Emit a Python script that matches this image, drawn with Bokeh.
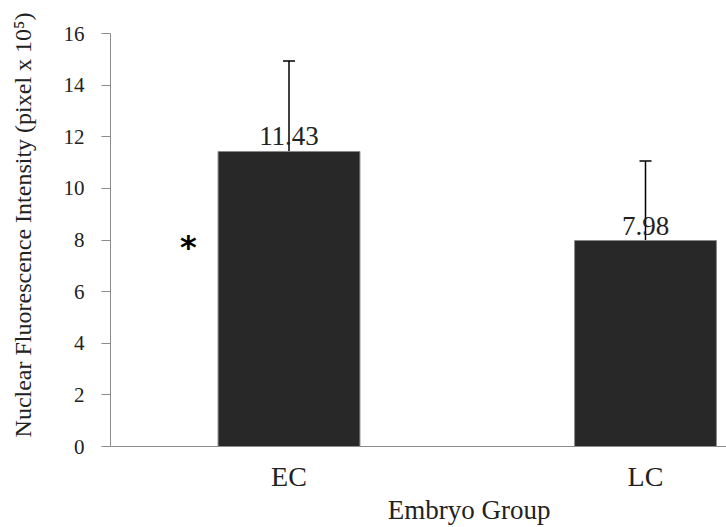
from bokeh.plotting import figure
from bokeh.models import ColumnDataSource, Whisker, TeeHead, FixedTicker, Range1d
from bokeh.core.properties import value
from bokeh.embed import file_html
from bokeh.resources import INLINE

groups = ["EC", "LC"]
group_pos = [0, 1]
means = [11.43, 7.98]
errors = [3.50, 3.08]
mean_labels = ["11.43", "7.98"]
y_ticks = [0, 2, 4, 6, 8, 10, 12, 14, 16]
star_x = [-0.282]
star_y = [7.87]

SERIF = "'Liberation Serif', 'Times New Roman', serif"
LABEL_FONT = "Times"
NB = "\u00a0"

upper = [m + e for m, e in zip(means, errors)]
src = ColumnDataSource(dict(x=group_pos, top=means, upper=upper, lab=mean_labels))

p = figure(width=726, height=527, output_backend="svg", toolbar_location=None,
           x_range=Range1d(-0.5007, 1.2272), y_range=Range1d(0, 16),
           min_border_left=110, min_border_right=0, min_border_top=33,
           min_border_bottom=81)
p.outline_line_color = None
p.grid.visible = False
p.background_fill_color = "white"

p.vbar(x="x", top="top", bottom=0, width=0.398, source=src,
       fill_color="#282828", line_color="#8a8a8a", line_width=1)

w = Whisker(base="x", lower="top", upper="upper", source=src,
            line_color="black", line_width=1.5,
            upper_head=TeeHead(size=12, line_color="black", line_width=1.5),
            lower_head=None)
p.add_layout(w)

p.text(x="x", y="top", text="lab", source=src, text_align="center",
       text_baseline="alphabetic", y_offset=-15,
       text_font=value(SERIF), text_font_size="27px", text_color="#222222")

p.text(x=star_x, y=star_y, text=["*"], text_align="center", text_baseline="middle",
       text_font=value("DejaVu Sans"), text_font_style="bold",
       text_font_size="32px", text_color="black", y_offset=4)

# y axis
ya = p.yaxis[0]
ya.ticker = FixedTicker(ticks=y_ticks)
ya.axis_line_color = "#8c8c8c"
ya.major_tick_line_color = "#8c8c8c"
ya.major_tick_out = 9
ya.major_tick_in = 0
ya.minor_tick_line_color = None
ya.major_label_text_font = SERIF
ya.major_label_text_font_size = "21px"
ya.major_label_text_color = "#222222"
ya.major_label_standoff = 17
ya.axis_label = NB * 5 + "Nuclear Fluorescence Intensity (pixel x 10⁵)"
ya.axis_label_text_font = LABEL_FONT
ya.axis_label_text_font_size = "24px"
ya.axis_label_text_font_style = "normal"
ya.axis_label_text_color = "#222222"
ya.axis_label_standoff = 25

# x axis
xa = p.xaxis[0]
xa.ticker = FixedTicker(ticks=group_pos)
xa.major_label_overrides = {0: groups[0], 1: groups[1]}
xa.axis_line_color = "#8c8c8c"
xa.major_tick_line_color = None
xa.minor_tick_line_color = None
xa.major_label_text_font = SERIF
xa.major_label_text_font_size = "28px"
xa.major_label_text_color = "#222222"
xa.major_label_standoff = 8
xa.axis_label = NB * 15 + "Embryo Group"
xa.axis_label_text_font = LABEL_FONT
xa.axis_label_text_font_size = "27px"
xa.axis_label_text_font_style = "normal"
xa.axis_label_text_color = "#222222"
xa.axis_label_standoff = 0

open("out.html", "w").write(file_html(p, INLINE))
